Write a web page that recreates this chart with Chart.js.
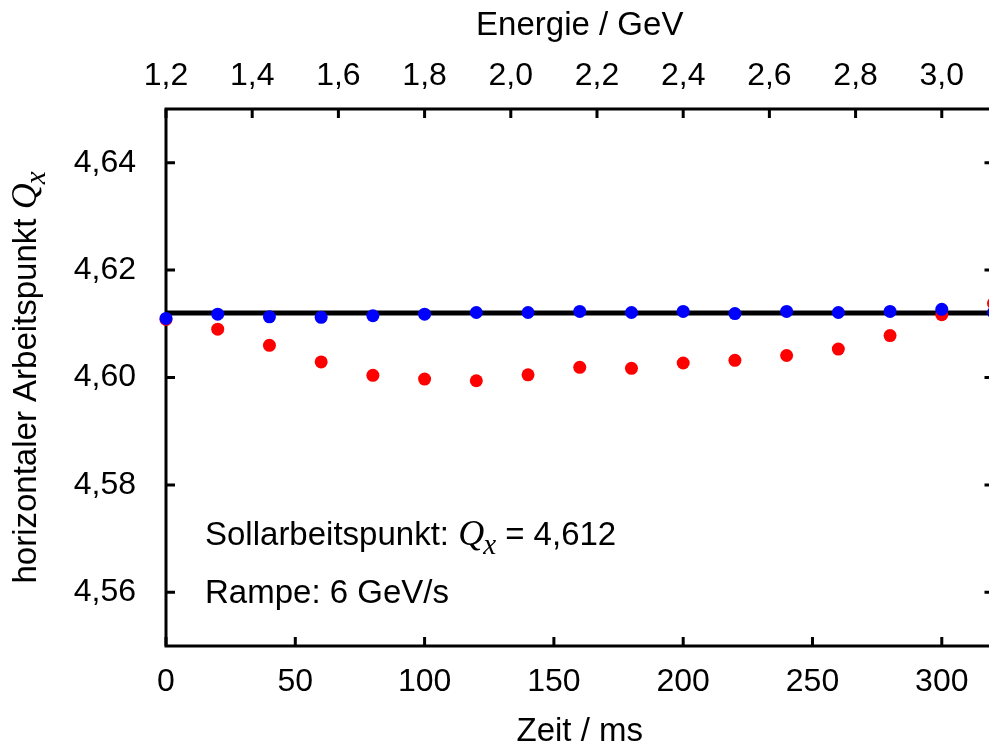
<!DOCTYPE html>
<html><head><meta charset="utf-8">
<script src="https://cdn.jsdelivr.net/npm/chart.js@4/dist/chart.umd.min.js"></script>
<style>html,body{margin:0;padding:0;background:#fff;overflow:hidden}
#wrap{position:relative;width:1000px;height:747px}</style>
</head><body><div id="wrap"><canvas id="c"></canvas></div>
<script>
// ---- data ----
const timeMs = [0,20,40,60,80,100,120,140,160,180,200,220,240,260,280,300,320];
const qxRed  = [4.6108,4.6090,4.6060,4.6029,4.6004,4.5997,4.5994,4.6005,4.6019,4.6017,4.6027,4.6032,4.6041,4.6053,4.6078,4.6117,4.6138];
const qxBlue = [4.6110,4.6118,4.6113,4.6112,4.6115,4.6118,4.6121,4.6121,4.6123,4.6121,4.6123,4.6119,4.6123,4.6121,4.6123,4.6127,4.6121];
const sollQx = 4.612;
const xTicks = [0,50,100,150,200,250,300];
const yTicks = [4.56,4.58,4.60,4.62,4.64];
const energyTicks = [1.2,1.4,1.6,1.8,2.0,2.2,2.4,2.6,2.8,3.0];
const energyStart = 1.2;   // GeV at t = 0
const rampGeVperS = 6;     // GeV/s
const xMin = 0, xMax = 320, yMin = 4.55, yMax = 4.65;

const SANS = '"Liberation Sans", Arial, sans-serif';
const SERIF = '"Liberation Serif", "Times New Roman", serif';
const FS = 32;   // tick labels
const FT = 33;   // titles and notes

const toMs = e => (e - energyStart) / rampGeVperS * 1000;
const toE = ms => energyStart + ms * rampGeVperS / 1000;
const comma = (v, d) => v.toFixed(d).replace('.', ',');

function drawRich(ctx, parts, x, y, align) {
  let w = 0;
  parts.forEach(p => { ctx.font = p.font; p.w = ctx.measureText(p.text).width; w += p.w + (p.gap || 0); });
  let cx = align === 'center' ? x - w / 2 : x;
  parts.forEach(p => { ctx.font = p.font; ctx.fillText(p.text, cx, y + (p.dy || 0)); cx += p.w + (p.gap || 0); });
}
const qx = () => [
  {text: 'Q', font: 'italic 36px ' + SERIF, gap: -1},
  {text: 'x', font: 'italic 29px ' + SERIF, dy: 9, gap: 0},
];

const framePlugin = {
  id: 'frame',
  beforeDatasetsDraw(chart) {
    const ctx = chart.ctx, a = chart.chartArea;
    const xs = chart.scales.x, x2 = chart.scales.x2, ys = chart.scales.y;
    ctx.save();
    ctx.strokeStyle = '#000';
    ctx.lineWidth = 3;
    ctx.strokeRect(a.left, a.top, a.right - a.left, a.bottom - a.top);
    const TL = 9;
    ctx.beginPath();
    xs.ticks.forEach(t => { const p = xs.getPixelForValue(t.value); ctx.moveTo(p, a.bottom); ctx.lineTo(p, a.bottom - TL); });
    x2.ticks.forEach(t => { const p = x2.getPixelForValue(t.value); ctx.moveTo(p, a.top); ctx.lineTo(p, a.top + TL); });
    ys.ticks.forEach(t => { const p = ys.getPixelForValue(t.value);
      ctx.moveTo(a.left, p); ctx.lineTo(a.left + TL, p);
      ctx.moveTo(a.right, p); ctx.lineTo(a.right - TL, p); });
    ctx.stroke();
    ctx.restore();
  },
  afterDraw(chart) {
    const ctx = chart.ctx, a = chart.chartArea;
    ctx.save();
    ctx.fillStyle = '#000';
    ctx.textBaseline = 'alphabetic';
    const cxm = (a.left + a.right) / 2;
    ctx.font = FT + 'px ' + SANS; ctx.textAlign = 'center';
    ctx.fillText('Energie / GeV', cxm, 35);
    ctx.fillText('Zeit / ms', cxm, 741);
    ctx.textAlign = 'left';
    ctx.save();
    ctx.translate(36, (a.top + a.bottom) / 2);
    ctx.rotate(-Math.PI / 2);
    drawRich(ctx, [{text: 'horizontaler Arbeitspunkt ', font: FT + 'px ' + SANS}].concat(qx()), 0, 0, 'center');
    ctx.restore();
    drawRich(ctx, [{text: 'Sollarbeitspunkt: ', font: FT + 'px ' + SANS}].concat(qx()).concat([{text: ' = 4,612', font: FT + 'px ' + SANS}]), 205, 545, 'left');
    ctx.font = FT + 'px ' + SANS;
    ctx.fillText('Rampe: 6 GeV/s', 205, 603);
    ctx.restore();
  }
};

const tickFont = {family: SANS, size: FS};

new Chart(document.getElementById('c'), {
  type: 'scatter',
  data: {
    datasets: [
      {label: 'soll', type: 'line', data: [{x: xMin, y: sollQx}, {x: xMax, y: sollQx}],
       borderColor: '#000', borderWidth: 5, pointRadius: 0, order: 3, clip: false},
      {label: 'rot', data: timeMs.map((t, i) => ({x: t, y: qxRed[i]})),
       backgroundColor: '#ff0000', borderWidth: 0, pointRadius: 6.5, order: 2, clip: false},
      {label: 'blau', data: timeMs.map((t, i) => ({x: t, y: qxBlue[i]})),
       backgroundColor: '#0000ff', borderWidth: 0, pointRadius: 6.5, order: 1, clip: false}
    ]
  },
  options: {
    responsive: true, maintainAspectRatio: false, animation: false, devicePixelRatio: 1,
    layout: {padding: {left: 0, right: 6, top: 0, bottom: 0}},
    plugins: {legend: {display: false}, tooltip: {enabled: false}},
    scales: {
      x: {
        type: 'linear', position: 'bottom', min: xMin, max: xMax,
        afterBuildTicks: s => { s.ticks = xTicks.map(v => ({value: v})); },
        ticks: {font: tickFont, color: '#000', padding: 9, maxRotation: 0, autoSkip: false,
                callback: v => String(v)},
        grid: {display: false}, border: {display: false},
        afterFit: s => { s.height = 101; }
      },
      x2: {
        type: 'linear', position: 'top', min: xMin, max: xMax,
        afterBuildTicks: s => { s.ticks = energyTicks.map(e => ({value: toMs(e)})); },
        ticks: {font: tickFont, color: '#000', padding: 6, maxRotation: 0, autoSkip: false,
                callback: v => comma(toE(v), 1)},
        grid: {display: false}, border: {display: false},
        afterFit: s => { s.height = 109; }
      },
      y: {
        type: 'linear', position: 'left', min: yMin, max: yMax,
        afterBuildTicks: s => { s.ticks = yTicks.map(v => ({value: v})); },
        ticks: {font: tickFont, color: '#000', padding: 22, autoSkip: false,
                callback: v => comma(v, 2)},
        grid: {display: false}, border: {display: false},
        afterFit: s => { s.width = 166; }
      }
    }
  },
  plugins: [framePlugin]
});
</script>
</body></html>
